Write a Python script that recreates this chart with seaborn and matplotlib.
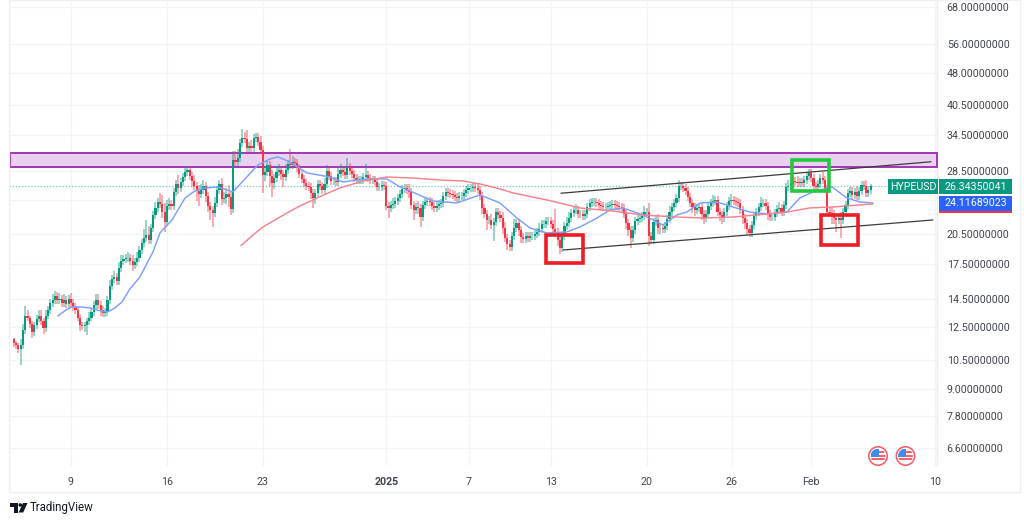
import numpy as np
import pandas as pd
import matplotlib
matplotlib.use("Agg")
import matplotlib.pyplot as plt
from matplotlib.patches import Rectangle, Circle, Polygon
from matplotlib.transforms import Affine2D
import seaborn as sns

# ---- data (prices in USD, time in days after 9 Dec 2024) ----
first_candle_day = -4.17
candle_step_days = 1 / 6
close_prices = [
 11.51,11.39,11.14,11.39,12.32,13.29,13.16,12.7,12.2,12.63,
 13.09,13.29,12.89,12.44,13.29,13.7,14.22,14.44,14.73,14.44,
 14.51,14.22,14.44,14.15,14.51,14.22,13.92,13.7,13.16,12.63,
 12.57,12.63,12.89,13.16,13.56,14.08,14.44,14.08,13.7,13.5,
 13.56,14.44,15.56,16.14,16.31,15.97,17.11,17.75,17.94,18.04,
 18.04,17.75,17.38,17.66,18.04,18.81,19.53,20.05,20.37,19.84,
 21.14,22.64,23.5,24.25,24.0,23.0,21.82,23.75,24.0,23.75,
 25.58,26.68,26.12,26.96,27.68,28.43,28.73,27.83,27.1,26.4,
 25.71,25.31,25.85,26.4,25.04,23.75,23.25,22.88,24.13,25.85,
 26.68,24.64,24.78,25.31,24.91,23.37,30.29,29.97,30.6,33.14,
 34.03,33.85,32.28,32.62,32.28,34.03,34.2,33.3,31.94,27.98,
 28.43,29.5,27.83,26.82,27.54,28.43,28.73,28.13,27.68,28.73,
 29.66,29.5,29.97,29.81,29.04,28.13,27.39,26.82,26.4,26.26,
 25.44,24.78,25.44,26.68,26.4,25.85,26.68,28.58,27.83,27.1,
 27.1,26.96,28.13,28.73,28.43,27.98,29.19,28.58,28.13,27.54,
 27.25,27.25,27.25,27.68,27.98,27.54,27.25,27.25,26.96,26.26,
 26.26,26.54,26.4,23.75,23.5,23.87,24.0,24.38,24.78,25.31,
 25.99,26.12,25.85,25.58,23.87,23.25,23.62,23.5,22.4,23.87,
 24.25,24.38,24.25,23.75,23.5,23.75,24.0,24.13,25.04,25.58,
 25.44,25.31,25.17,24.91,24.78,25.04,25.04,25.44,25.85,26.12,
 26.12,26.26,26.12,25.85,25.04,23.5,22.76,22.05,22.05,21.48,
 21.82,23.0,22.64,22.28,21.14,20.05,19.43,19.12,20.27,21.14,
 21.7,20.92,20.16,19.95,20.27,20.05,20.27,20.27,20.48,20.7,
 21.03,21.59,21.59,21.93,21.93,21.59,21.03,20.7,19.84,19.02,
 20.27,21.36,21.7,22.28,22.88,23.25,23.25,22.76,22.76,22.52,
 22.76,23.62,24.13,24.25,24.25,24.13,23.87,23.75,23.62,23.62,
 23.75,23.87,24.0,23.87,23.75,23.62,23.5,22.76,21.7,20.92,
 20.05,20.92,21.93,22.16,22.28,22.52,23.0,23.0,20.27,19.84,
 21.82,22.05,21.14,21.14,21.03,21.36,22.16,23.0,23.62,24.13,
 24.78,26.4,26.4,26.12,25.71,24.91,24.13,23.62,23.25,23.5,
 23.62,22.76,22.28,22.76,23.75,24.13,24.38,24.51,23.0,22.64,
 22.28,23.0,23.75,24.38,24.51,24.38,24.25,24.13,23.25,22.28,
 21.7,21.03,20.59,21.48,22.52,23.0,23.62,24.13,24.13,23.75,
 22.76,22.4,22.4,22.88,23.37,23.5,23.0,23.87,26.26,26.4,
 26.68,27.1,26.96,26.82,26.96,26.82,27.25,27.83,28.28,27.54,
 26.4,26.26,26.68,27.54,27.25,25.99,23.0,22.88,22.76,22.28,
 22.05,22.28,22.05,23.0,23.87,25.44,25.71,25.17,25.58,25.04,
 25.71,26.54,26.4,25.44,25.85,26.34,
]
upper_wick_pct = [
 1,1,1,3,3,5,3,1,2,2,
 2,3,3,2,3,2,2,3,3,2,
 3,2,3,2,2,3,2,2,2,2,
 2,2,2,3,2,2,3,3,2,2,
 2,2,3,2,3,2,3,3,2,2,
 3,2,3,2,3,2,2,5,8,5,
 2,2,3,2,5,5,5,3,3,2,
 2,2,5,2,2,2,2,2,2,3,
 2,3,3,3,2,2,2,2,3,2,
 2,3,3,3,5,3,5,5,5,2,
 5,3,5,2,3,2,2,2,3,2,
 3,2,2,3,2,3,3,2,2,3,
 2,8,3,2,2,2,2,2,2,2,
 2,2,2,2,2,2,3,3,2,2,
 2,2,3,3,2,2,5,2,2,2,
 2,2,2,2,6,2,2,2,2,2,
 2,2,2,2,2,2,3,2,2,2,
 2,2,2,3,2,2,2,3,2,2,
 2,2,2,2,2,2,2,2,2,2,
 2,2,2,2,2,2,2,2,2,2,
 2,2,2,2,2,2,2,2,2,3,
 2,2,2,2,3,3,2,2,2,5,
 2,2,2,2,2,2,2,2,2,2,
 3,2,2,2,2,2,2,11,2,3,
 2,2,3,3,2,2,3,2,2,2,
 2,2,2,2,2,2,2,2,2,2,
 2,2,2,2,2,2,2,2,2,2,
 2,2,2,3,2,2,3,2,5,2,
 2,2,3,2,2,2,2,3,2,2,
 2,3,2,2,2,2,2,2,2,2,
 2,2,2,2,2,2,3,2,2,2,
 2,2,2,2,3,2,2,2,2,2,
 2,2,2,2,2,2,2,3,2,2,
 2,2,2,2,2,3,2,2,2,3,
 2,2,2,3,2,2,2,2,2,2,
 2,2,2,2,3,2,2,2,3,2,
 2,2,3,2,2,2,2,2,2,3,
 2,2,2,3,2,1,
]
lower_wick_pct = [
 2,2,2,8,2,2,2,2,3,2,
 2,2,2,3,2,2,2,2,2,2,
 2,2,2,2,2,2,2,2,2,3,
 2,3,5,2,2,2,2,2,3,2,
 2,2,2,2,2,2,2,2,2,2,
 2,2,3,2,2,2,2,2,2,2,
 2,2,2,2,2,3,5,2,2,2,
 2,2,3,2,2,2,2,2,3,2,
 5,6,2,2,3,3,5,7,2,2,
 2,3,2,3,5,3,2,2,2,2,
 2,2,2,2,2,2,2,2,2,9,
 3,2,5,7,3,2,2,3,5,2,
 2,2,2,2,2,2,2,2,2,2,
 3,5,3,2,2,2,2,2,2,2,
 2,2,2,2,2,2,2,2,2,2,
 2,2,2,2,2,2,2,2,2,2,
 2,2,2,2,5,2,2,2,2,2,
 2,2,2,3,2,5,2,3,5,2,
 2,2,2,2,2,2,2,2,2,2,
 2,2,2,2,2,2,2,2,2,2,
 2,2,2,2,2,3,2,5,2,2,
 8,2,2,2,3,2,3,2,2,2,
 2,3,3,2,2,2,2,2,2,2,
 2,2,2,2,2,2,2,2,3,3,
 2,2,2,2,2,2,2,2,2,2,
 2,2,2,2,2,2,2,2,2,2,
 2,2,2,2,2,2,2,2,3,3,
 5,2,2,2,2,2,2,2,5,2,
 2,2,3,3,2,2,2,2,2,2,
 2,2,2,2,2,2,2,3,3,2,
 2,3,3,2,2,2,2,2,2,3,
 3,2,2,2,2,2,2,2,2,3,
 3,3,2,2,2,2,2,2,2,2,
 3,2,2,2,2,2,2,2,2,2,
 2,2,2,2,2,2,2,2,2,2,
 2,2,2,2,2,2,2,2,5,3,
 6,2,9,2,2,2,2,2,2,2,
 2,2,2,2,2,2,
]
opening_price = 11.72

blue_ma_days = [-0.95,-0.36,0.07,0.66,1.39,2.12,2.70,3.21,3.72,4.30,5.03,5.98,6.49,7.37,8.32,9.04,9.77,10.72,11.82,12.69,
 13.64,14.51,15.10,15.97,17.21,18.89,19.84,20.86,21.81,23.05,24.0,25.24,26.40,28.15,29.83,31.29,32.53,33.48,34.72,36.18,
 37.13,38.37,39.31,40.26,41.72,43.18,44.2,44.93,45.88,47.12,48.29,49.53,50.77,52.22,53.17,54.12,55.51,56.6,57.55,58.5]
blue_ma_prices = [13.27,13.70,13.92,13.92,13.85,13.63,13.56,13.85,14.29,15.31,16.31,18.62,20.59,22.05,24.77,25.71,26.12,26.26,25.58,27.4,
 29.5,30.45,30.78,29.97,28.28,27.68,26.96,27.25,27.4,27.4,26.26,25.3,24.38,24.13,25.17,24.13,22.28,21.14,20.59,20.7,
 21.25,22.28,23.25,23.5,22.64,21.48,22.64,23.0,24.13,24.25,23.62,23.0,22.76,23.0,24.77,25.58,26.26,24.77,24.25,24.12]
red_ma_days = [12.4,13.2,14.0,14.88,15.75,16.7,17.65,18.6,19.62,21.3,23.05,24.95,26.92,28.59,29.83,31.29,32.24,34.72,37.13,39.53,41.72,44.2,46.1,48.29,50.77,52.22,53.9,55.58,58.5]
red_ma_prices = [19.25,20.27,21.25,22.05,22.88,23.75,24.51,25.31,26.12,27.1,27.68,27.53,27.25,27.1,26.68,25.99,25.44,24.51,23.5,23.12,22.64,22.4,22.28,22.4,22.76,23.0,23.5,23.62,24.0]

zone_prices = [29.2, 31.5]
upper_trend_days, upper_trend_prices = [35.74, 62.73], [25.4, 30.0]
lower_trend_days, lower_trend_prices = [35.89, 62.87], [18.81, 22.05]
support_box_1 = ([34.65, 37.35], [17.55, 20.37])
resistance_box = ([52.59, 55.3], [25.7, 30.3])
support_box_2 = ([54.7, 57.4], [19.32, 22.64])

y_ticks = [68, 56, 48, 40.5, 34.5, 28.5, 24.5, 20.5, 17.5, 14.5, 12.5, 10.5, 9, 7.8, 6.6]
y_labels = ["68.00000000","56.00000000","48.00000000","40.50000000","34.50000000","28.50000000","",
            "20.50000000","17.50000000","14.50000000","12.50000000","10.50000000","9.00000000","7.80000000","6.60000000"]
x_tick_days = [0, 7, 14, 23, 29, 35, 42, 48.2, 54, 63]
x_labels = ["9","16","23","2025","7","13","20","26","Feb","10"]
symbol = "HYPEUSD"
last_price = 26.34350041
ma_label = "24.11689023"
event_days = [58.87, 60.87]

# ---- colours ----
UP, DOWN = "#089981", "#f23645"
BLUE_MA, RED_MA = "#7aa0ff", "#f7828d"
TEXT = "#3f434d"
GRID = "#f3f4f6"
SIZE = 7.7

sns.set_theme(style="white")
plt.rcParams["font.family"] = ["Roboto", "DejaVu Sans"]

fig = plt.figure(figsize=(10.24, 5.24), dpi=100, facecolor="white")
ax = fig.add_axes([9/1024, 1-466/524, 928/1024, 466/524])
px = Affine2D().scale(1/1024, -1/524).translate(0, 1) + fig.transFigure

# ---- candles ----
closes = np.array(close_prices)
opens = np.r_[opening_price, closes[:-1]]
highs = np.maximum(opens, closes) * (1 + np.array(upper_wick_pct) / 100)
lows = np.minimum(opens, closes) * (1 - np.array(lower_wick_pct) / 100)
days = first_candle_day + candle_step_days * np.arange(len(closes))
cols = np.where(closes >= opens, UP, DOWN)

ax.set_yscale("log")
ax.vlines(days, lows, highs, colors=cols, lw=1.3, alpha=0.45, zorder=3)
ax.bar(days, np.abs(closes-opens), bottom=np.minimum(opens, closes),
       width=candle_step_days*0.95, color=cols, lw=0, zorder=4)

# ---- moving averages ----
sns.lineplot(data=pd.DataFrame({"day": blue_ma_days, "price": blue_ma_prices}), x="day", y="price",
             ax=ax, color=BLUE_MA, lw=1.05, estimator=None, sort=False, zorder=5)
sns.lineplot(data=pd.DataFrame({"day": red_ma_days, "price": red_ma_prices}), x="day", y="price",
             ax=ax, color=RED_MA, lw=1.05, estimator=None, sort=False, zorder=5)

# ---- annotations ----
xmin, xmax = -4.52, 63.17
ax.add_patch(Rectangle((xmin + 0.05, zone_prices[0]), xmax-xmin-0.05, zone_prices[1]-zone_prices[0],
                       fc="#e9d2ef", ec="#a335b8", lw=1.4, zorder=2, clip_on=False))
for d, p in [(upper_trend_days, upper_trend_prices), (lower_trend_days, lower_trend_prices)]:
    ax.plot(d, p, color="#3c3c3c", lw=0.9, zorder=6)
for (d, p), c in [(support_box_1, "#ee1c25"), (resistance_box, "#22c93f"), (support_box_2, "#ee1c25")]:
    ax.add_patch(Rectangle((d[0], p[0]), d[1]-d[0], p[1]-p[0], fc="none", ec=c, lw=2.6, zorder=7, joinstyle="miter"))
ax.axhline(last_price, color=UP, lw=0.9, ls=(0, (1, 1.5)), alpha=0.55, zorder=1)

# ---- axes ----
ax.set_xlim(xmin, xmax)
ax.set_ylim(6.0, 70.6)
ax.set_xlabel(""); ax.set_ylabel("")
ax.yaxis.tick_right()
ax.set_yticks(y_ticks, y_labels)
ax.minorticks_off()
ax.yaxis.set_minor_locator(matplotlib.ticker.NullLocator())
ax.set_xticks(x_tick_days, x_labels)
ax.tick_params(axis="both", length=0, labelsize=SIZE, labelcolor=TEXT)
ax.tick_params(axis="y", pad=7)
ax.tick_params(axis="x", pad=8)
ax.get_xticklabels()[3].set_fontweight("bold")
ax.grid(True, color=GRID, lw=0.9)
ax.set_axisbelow(True)
sns.despine(ax=ax, left=True, bottom=True, top=True, right=True)
ax.axvline(xmax, color="#eceef1", lw=1, zorder=1, clip_on=False)

# frame around the widget
fig.add_artist(Rectangle((9, 0), 1011, 492, transform=px, fc="none", ec="#eeeff2", lw=0.9))

# ---- price tags ----
for x0, y0, w, h, c in [(888, 179, 50, 15, UP), (939, 179, 73, 15, UP), (939, 196, 73, 15, "#2962ff")]:
    fig.add_artist(Rectangle((x0, y0), w, h, transform=px, fc=c, ec="none", zorder=10))
fig.add_artist(Rectangle((939, 211), 73, 2, transform=px, fc="#f23645", ec="none", zorder=10))
fig.text(913, 186.5, symbol, transform=px, color="white", fontsize=SIZE, ha="center", va="center", zorder=11)
fig.text(975.5, 186.5, f"{last_price:.8f}", transform=px, color="white", fontsize=SIZE, ha="center", va="center", zorder=11)
fig.text(975.5, 203.5, ma_label, transform=px, color="white", fontsize=SIZE, ha="center", va="center", zorder=11)

# ---- event flags ----
for d in event_days:
    cx = 9 + (d - xmin) / (xmax - xmin) * 928
    a = fig.add_axes([(cx-11)/1024, 1-(456+11)/524, 22/1024, 22/524])
    a.set_xlim(-11, 11); a.set_ylim(-11, 11); a.axis("off")
    a.add_patch(Circle((0, 0), 10, fc="#f7606c", ec="none"))
    a.add_patch(Circle((0, 0), 8.4, fc="white", ec="none"))
    for r in [Rectangle((-7.5, -0.5), 8.5, 8, fc="#3f8cf0", ec="none"),
              Rectangle((1, 3), 6.5, 2.4, fc="#f7606c", ec="none"),
              Rectangle((1, -0.5), 6.5, 1.8, fc="#f7606c", ec="none"),
              Rectangle((-7.5, -4.4), 15, 2.2, fc="#f7606c", ec="none")]:
        a.add_patch(r)
        r.set_clip_path(Circle((0, 0), 7.4, transform=a.transData))

# ---- TradingView logo ----
fig.add_artist(Polygon([(10,503),(18,503),(18,512.5),(14,512.5),(14,506.5),(10,506.5)], closed=True, transform=px, fc="#131722", ec="none"))
fig.add_artist(Circle((20.3,505), 1.8, transform=px, fc="#131722", ec="none"))
fig.add_artist(Polygon([(23,503),(27.5,503),(23.2,512.5),(18.6,512.5)], closed=True, transform=px, fc="#131722", ec="none"))
fig.text(30, 508, "TradingView", transform=px, color="#131722", fontsize=8.3, ha="left", va="center")

fig.savefig("out.png", dpi=100)
